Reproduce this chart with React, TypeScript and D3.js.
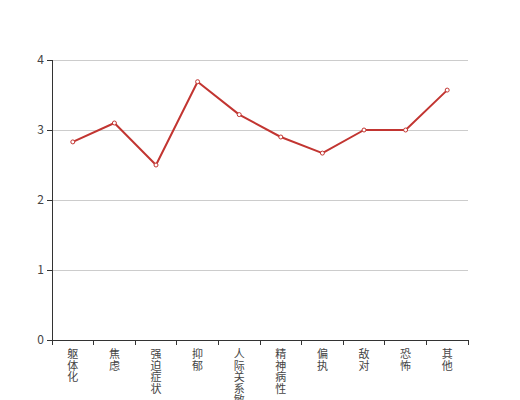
import React from "react";
import * as d3 from "d3";

const categories = ["躯体化", "焦虑", "强迫症状", "抑郁", "人际关系敏感", "精神病性", "偏执", "敌对", "恐怖", "其他"];
const values = [2.83, 3.1, 2.5, 3.69, 3.22, 2.9, 2.67, 3.0, 3.0, 3.57];
const yTicks = [0, 1, 2, 3, 4];

const W = 520;
const H = 400;
const M = { left: 52, right: 52, top: 60, bottom: 60 };

export default function App() {
  const x = d3.scaleBand<string>().domain(categories).range([M.left, W - M.right]);
  const y = d3.scaleLinear().domain([0, 4]).range([H - M.bottom, M.top]);
  const line = d3
    .line<number>()
    .x((_, i) => (x(categories[i]) as number) + x.bandwidth() / 2)
    .y((d) => y(d));
  const font = "'Noto Sans CJK SC', 'Noto Sans', sans-serif";
  const axisColor = "#333";
  const labelColor = "#444";
  const boundaries = [...categories.map((c) => x(c) as number), W - M.right];
  return (
    <svg width={W} height={H} style={{ position: "absolute", left: 0, top: 0 }} fontFamily={font}>
      <rect width={W} height={H} fill="#fff" />
      {yTicks.map((t) =>
        t === 0 ? null : (
          <line key={"g" + t} x1={M.left} x2={W - M.right} y1={y(t)} y2={y(t)} stroke="#ccc" strokeWidth={1} shapeRendering="crispEdges" />
        )
      )}
      {/* y axis */}
      <line x1={M.left} x2={M.left} y1={M.top} y2={H - M.bottom} stroke={axisColor} shapeRendering="crispEdges" />
      {yTicks.map((t) => (
        <g key={"y" + t}>
          <line x1={M.left - 5} x2={M.left} y1={y(t)} y2={y(t)} stroke={axisColor} shapeRendering="crispEdges" />
          <text x={M.left - 8} y={y(t)} dy="0.35em" textAnchor="end" fontSize={12} fill={labelColor}>
            {t}
          </text>
        </g>
      ))}
      {/* x axis */}
      <line x1={M.left} x2={W - M.right} y1={H - M.bottom} y2={H - M.bottom} stroke={axisColor} shapeRendering="crispEdges" />
      {boundaries.map((b, i) => (
        <line key={"xt" + i} x1={b} x2={b} y1={H - M.bottom} y2={H - M.bottom + 5} stroke={axisColor} shapeRendering="crispEdges" />
      ))}
      {categories.map((c) => {
        const cx = (x(c) as number) + x.bandwidth() / 2;
        return (
          <text key={c} x={cx} y={H - M.bottom + 18} textAnchor="middle" fontSize={11} fill={labelColor}>
            {Array.from(c).map((ch, i) => (
              <tspan key={i} x={cx} dy={i === 0 ? 0 : 11.6}>
                {ch}
              </tspan>
            ))}
          </text>
        );
      })}
      <path d={line(values) || ""} fill="none" stroke="#c23531" strokeWidth={2} strokeLinejoin="round" />
      {values.map((v, i) => (
        <circle
          key={"p" + i}
          cx={(x(categories[i]) as number) + x.bandwidth() / 2}
          cy={y(v)}
          r={2}
          fill="#fff"
          stroke="#c23531"
          strokeWidth={1}
        />
      ))}
    </svg>
  );
}
